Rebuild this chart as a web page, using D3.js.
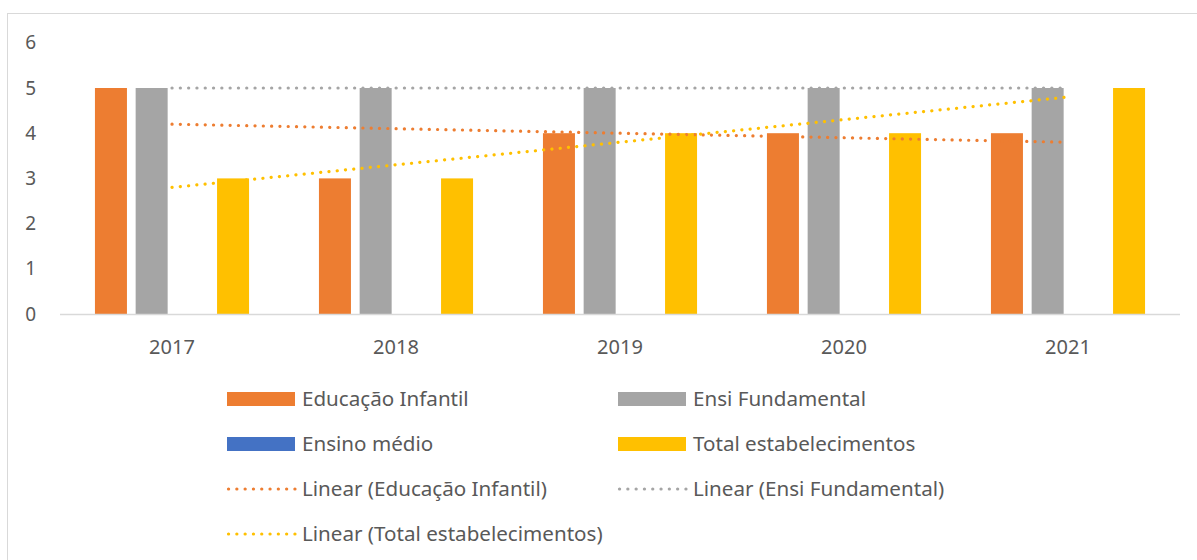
<!DOCTYPE html>
<html>
<head>
<meta charset="utf-8">
<script src="https://cdn.jsdelivr.net/npm/d3@7"></script>
<style>
  body { margin: 0; background: #fff; }
  svg text { font-family: "Noto Sans", "Open Sans", sans-serif; fill: #595959; }
</style>
</head>
<body>
<div id="chart"></div>
<script>
// data
const years = ["2017", "2018", "2019", "2020", "2021"];
const seriesNames = ["Educação Infantil", "Ensi Fundamental", "Ensino médio", "Total estabelecimentos"];
const educacaoInfantil = [5, 3, 4, 4, 4];
const ensiFundamental = [5, 5, 5, 5, 5];
const ensinoMedio = [0, 0, 0, 0, 0];
const totalEstab = [3, 3, 4, 4, 5];
const colors = ["#ED7D31", "#A5A5A5", "#4472C4", "#FFC000"];
const yTicks = [0, 1, 2, 3, 4, 5, 6];

const seriesValues = [educacaoInfantil, ensiFundamental, ensinoMedio, totalEstab];

const W = 1197, H = 560;
const svg = d3.select("#chart").append("svg")
  .attr("width", W).attr("height", H);

// chart border
svg.append("rect")
  .attr("x", 7.5).attr("y", 13.5)
  .attr("width", W - 4).attr("height", H)
  .attr("fill", "none").attr("stroke", "#d9d9d9");

const x = d3.scaleBand().domain(years).range([60, 1180]);
const y = d3.scaleLinear().domain([0, 6]).range([314, 42.8]);

const barW = 32, barGap = 8.7;
const groupW = 4 * barW + 3 * barGap;
const xs = d3.scaleBand().domain(d3.range(4))
  .range([0, groupW]).paddingInner(barGap / (barW + barGap));

// y tick labels
svg.append("g").selectAll("text")
  .data(yTicks).enter().append("text")
  .attr("x", 36).attr("y", d => y(d))
  .attr("dy", "0.35em")
  .attr("text-anchor", "end")
  .style("font-size", "19px")
  .text(d => d);

// bars
seriesValues.forEach((vals, s) => {
  svg.append("g").selectAll("rect")
    .data(vals).enter().append("rect")
    .attr("x", (d, i) => x(years[i]) + (x.bandwidth() - groupW) / 2 + xs(s))
    .attr("width", xs.bandwidth())
    .attr("y", d => y(d))
    .attr("height", d => y(0) - y(d))
    .attr("fill", colors[s]);
});

// baseline
svg.append("line")
  .attr("x1", 60).attr("x2", 1180)
  .attr("y1", y(0) + 0.5).attr("y2", y(0) + 0.5)
  .attr("stroke", "#d9d9d9").attr("stroke-width", 1.5);

// x labels
svg.append("g").selectAll("text")
  .data(years).enter().append("text")
  .attr("x", d => x(d) + x.bandwidth() / 2)
  .attr("y", 347).attr("dy", "0.35em")
  .attr("text-anchor", "middle")
  .style("font-size", "20px")
  .text(d => d);

// linear trend lines (least squares on the series)
function trend(vals) {
  const xsIdx = vals.map((d, i) => i);
  const mx = d3.mean(xsIdx), my = d3.mean(vals);
  const slope = d3.sum(xsIdx, i => (i - mx) * (vals[i] - my)) / d3.sum(xsIdx, i => (i - mx) * (i - mx));
  return xsIdx.map(i => my + slope * (i - mx));
}
const trendSeries = [0, 1, 3];
const line = d3.line()
  .x((d, i) => x(years[i]) + x.bandwidth() / 2)
  .y(d => y(d));
trendSeries.forEach(s => {
  svg.append("path")
    .datum(trend(seriesValues[s]))
    .attr("d", line)
    .attr("fill", "none")
    .attr("stroke", colors[s])
    .attr("stroke-width", 3.2)
    .attr("stroke-linecap", "round")
    .attr("stroke-dasharray", "0.1 8.2");
});

// legend
const legendItems = [
  { label: seriesNames[0], color: colors[0], type: "box", col: 0, row: 0 },
  { label: seriesNames[1], color: colors[1], type: "box", col: 1, row: 0 },
  { label: seriesNames[2], color: colors[2], type: "box", col: 0, row: 1 },
  { label: seriesNames[3], color: colors[3], type: "box", col: 1, row: 1 },
  { label: "Linear (" + seriesNames[0] + ")", color: colors[0], type: "line", col: 0, row: 2 },
  { label: "Linear (" + seriesNames[1] + ")", color: colors[1], type: "line", col: 1, row: 2 },
  { label: "Linear (" + seriesNames[3] + ")", color: colors[3], type: "line", col: 0, row: 3 }
];
const colX = [227, 618], rowY = [399, 444, 489, 534];
const leg = svg.append("g").selectAll("g")
  .data(legendItems).enter().append("g")
  .attr("transform", d => `translate(${colX[d.col]},${rowY[d.row]})`);

leg.filter(d => d.type === "box").append("rect")
  .attr("x", 0).attr("y", -7).attr("width", 68).attr("height", 14)
  .attr("fill", d => d.color);

leg.filter(d => d.type === "line").append("line")
  .attr("x1", 1.5).attr("x2", 68).attr("y1", 0).attr("y2", 0)
  .attr("stroke", d => d.color)
  .attr("stroke-width", 3.2)
  .attr("stroke-linecap", "round")
  .attr("stroke-dasharray", "0.1 8.2");

leg.append("text")
  .attr("x", 75).attr("y", 0).attr("dy", "0.35em")
  .style("font-size", "20.6px")
  .text(d => d.label);
</script>
</body>
</html>
